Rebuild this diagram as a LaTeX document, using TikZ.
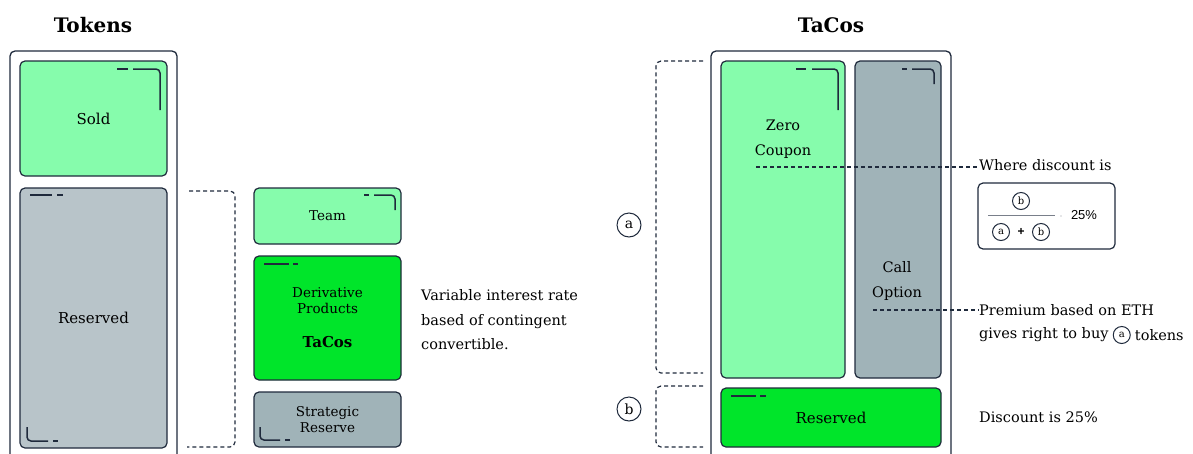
\documentclass[tikz,border=0pt]{standalone}
\usepackage{fontspec}
\setmainfont{DejaVu Serif}
\newfontfamily\numfont{Liberation Sans}
\usetikzlibrary{positioning}

\definecolor{ink}{HTML}{1F2A3C}
\definecolor{mint}{HTML}{86FCAC}
\definecolor{lime}{HTML}{00E52A}
\definecolor{slate}{HTML}{B8C4C9}
\definecolor{steel}{HTML}{A0B3B8}

\tikzset{
	blk/.style={draw=ink, line width=1.2, rounded corners=5, align=center, inner sep=0,
		font=\fontsize{15}{19}\selectfont},
	sblk/.style={blk, font=\fontsize{13.5}{16}\selectfont},
	frame/.style={draw=ink, line width=1.3, rounded corners=5},
	brk/.style={draw=ink, line width=1.2, dash pattern=on 4 off 3, rounded corners=5},
	lead/.style={draw=ink, line width=1.2, dash pattern=on 4 off 3},
	deco/.style={draw=ink, line width=1.5, rounded corners=4},
	txt/.style={font=\fontsize{14.5}{24.5}\selectfont, inner sep=0, align=left},
	ttl/.style={font=\bfseries\fontsize{20}{22}\selectfont},
	ltr/.style={draw=ink, circle, line width=1, inner sep=0, minimum size=24,
		font=\fontsize{14}{14}\selectfont},
	mltr/.style={ltr, minimum size=17, font=\fontsize{10}{10}\selectfont},
}

\begin{document}
\begin{tikzpicture}[x=1pt, y=-1pt]
		%%%%% START %%%%%
		\useasboundingbox (0,0) rectangle (1193,453);
		
		% tokens side
		\node[ttl] (tokens) at (93,25) {Tokens};
		\draw[frame] (10,456) |- (177,51) -- (177,456);
		
		\node[blk, fill=mint, minimum width=147, minimum height=115] (sold) at (93.5,118.5) {Sold};
		\draw[deco] (117,69) -- (128,69);
		\draw[deco] (133,69) -| (160,110);
		
		\node[blk, fill=slate, minimum width=147, minimum height=260] (resl) at (93.5,318) {Reserved};
		\draw[deco] (30,195) -- (52,195);
		\draw[deco] (57,195) -- (63,195);
		\draw[deco] (27,427) |- (48,441);
		\draw[deco] (53,441) -- (58,441);
		
		\draw[brk] (189,191) -| (235,447) -- (187,447);
		
		\node[sblk, fill=mint, minimum width=147, minimum height=56] (team) at (327.5,216) {Team};
		\draw[deco] (364,195) -- (369,195);
		\draw[deco] (374,195) -| (395,210);
		
		\node[sblk, fill=lime, minimum width=147, minimum height=124] (deriv) at (327.5,318)
			{Derivative\\Products\\[18pt]{\bfseries\fontsize{15}{16}\selectfont TaCos}};
		\draw[deco] (264,264) -- (289,264);
		\draw[deco] (293,264) -- (298,264);
		
		\node[sblk, fill=steel, minimum width=147, minimum height=55] (strat) at (327.5,419.5) {Strategic\\Reserve};
		\draw[deco] (260,427) |- (280,440);
		\draw[deco] (285,440) -- (290,440);
		
		\node[txt, anchor=west] (variable) at (421,320) {Variable interest rate\\based of contingent\\convertible.};
		
		% tacos side
		\node[ttl] (tacos) at (831,25) {TaCos};
		\draw[frame] (711,456) |- (951,51) -- (951,456);
		
		\node[blk, fill=mint, minimum width=124, minimum height=317] (zero) at (783,219.5) {};
		\node[txt, align=center] (zerolbl) at (783,139) {Zero\\Coupon};
		\draw[deco] (796,69) -- (806,69);
		\draw[deco] (812,69) -| (838,110);
		
		\node[blk, fill=steel, minimum width=86, minimum height=317] (call) at (898,219.5) {};
		\node[txt, align=center] (calllbl) at (897,281) {Call\\Option};
		\draw[deco] (902,69) -- (907,69);
		\draw[deco] (912,69) -| (934,84);
		
		\node[blk, fill=lime, minimum width=220, minimum height=59] (resr) at (831,417.5) {Reserved};
		\draw[deco] (731,396) -- (756,396);
		\draw[deco] (760,396) -- (766,396);
		
		\draw[brk] (703,61) -| (656,373) -- (703,373);
		\draw[brk] (703,386) -| (656,447) -- (703,447);
		\node[ltr] (a) at (629,225) {a};
		\node[ltr] (b) at (629,409) {b};
		
		\node[txt, anchor=west] (where) at (979,165) {Where discount is};
		\coordinate (zc) at (756,167);
		\draw[lead] (zc) -- (where.west |- zc);
		
		\node[txt, anchor=west] (premium) at (979,310) {Premium based on ETH};
		\coordinate (oc) at (873,310);
		\draw[lead] (oc) -- (premium.west);
		\node[txt, anchor=west] (buy) at (979,335) {gives right to buy};
		\node[mltr, right=4 of buy] (ain) {a};
		\node[txt, right=4 of ain] (tok) {tokens};
		
		% formula
		\node[blk, fill=white, minimum width=137, minimum height=66] (formula) at (1046.5,216) {};
		\node[mltr] (fb) at (1021,201) {b};
		\draw[draw=ink!60, line width=1] (988,215) -- (1055,215);
		\node[mltr] (fa) at (1001,232) {a};
		\node[font=\numfont\bfseries\fontsize{12}{12}\selectfont, inner sep=0] (plus) at (1021,232) {+};
		\node[mltr] (fb2) at (1041,232) {b};
		\fill[ink!50] (1061,216) circle (0.7);
		\node[font=\numfont\fontsize{13}{13}\selectfont, inner sep=0] (pct) at (1084,215) {25\%};
		
		\node[txt, anchor=west] (disc) at (979,417) {Discount is 25\%};
		%%%%% END %%%%%
	\end{tikzpicture}
\end{document}
